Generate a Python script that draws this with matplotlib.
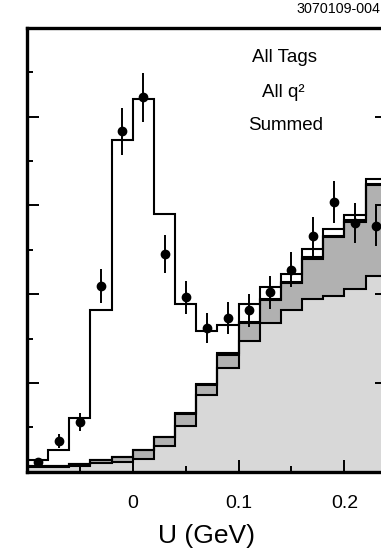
import numpy as np
import matplotlib
matplotlib.use("Agg")
import matplotlib.pyplot as plt
from matplotlib.ticker import MultipleLocator

plt.rcParams['font.family'] = ['Liberation Sans', 'DejaVu Sans']

# =========================
# Data
# =========================
bin_edges = [-0.10, -0.08, -0.06, -0.04, -0.02, 0.00, 0.02, 0.04, 0.06,
             0.08, 0.10, 0.12, 0.14, 0.16, 0.18, 0.20, 0.22, 0.24]

# stacked components, bottom to top
light = [2.5, 2.5, 3.2, 4.7, 5.6, 7.2, 14.5, 25.8, 43.3, 58.5, 73.4,
         83.7, 91.2, 97.5, 99.1, 103.1, 110.0]
dark = [0.9, 0.9, 1.1, 1.9, 2.5, 4.9, 5.1, 6.8, 5.6, 7.0, 10.5,
        13.2, 15.3, 22.5, 33.2, 37.6, 51.4]
black = [0.0, 0.0, 0.0, 0.0, 0.0, 0.0, 0.0, 0.7, 0.4, 1.1, 0.7,
         0.3, 0.2, 1.1, 0.7, 1.1, 0.7]
signal = [3.2, 8.8, 26.2, 84.3, 178.7, 198.0, 125.6, 61.2, 29.7, 15.8, 10.0,
          7.0, 4.7, 4.4, 3.7, 3.1, 2.9]

data_x = [-0.09, -0.07, -0.05, -0.03, -0.01, 0.01, 0.03, 0.05, 0.07,
          0.09, 0.11, 0.13, 0.15, 0.17, 0.19, 0.21, 0.23]
data_y = [5.6, 17.3, 28.2, 104.4, 191.9, 211.0, 122.8, 98.2, 80.9,
          86.6, 90.9, 101.0, 113.8, 132.6, 152.0, 140.2, 138.3]
data_err = [1.5, 4.2, 5.1, 9.6, 13.2, 13.9, 10.6, 9.5, 8.5,
            8.9, 9.1, 9.4, 10.0, 10.8, 11.7, 11.1, 11.3]

# =========================
# Figure
# =========================
fig = plt.figure(figsize=(3.81, 5.50), dpi=100)
ax = fig.add_axes([27 / 381, 78.3 / 550, 359.7 / 381, 443.7 / 550])

edges = np.array(bin_edges)
l_top = np.array(light)
d_top = l_top + np.array(dark)
k_top = d_top + np.array(black)
t_top = k_top + np.array(signal)

lw = 1.5
ax.stairs(l_top, edges, baseline=0, fill=True, color='#d8d8d8', lw=0)
ax.stairs(d_top, edges, baseline=l_top, fill=True, color='#b1b1b1', lw=0)
ax.stairs(k_top, edges, baseline=d_top, fill=True, color='black', lw=0)
for top in (l_top, d_top, k_top, t_top):
    ax.stairs(top, edges, baseline=None, color='black', lw=lw)

ax.errorbar(data_x, data_y, yerr=data_err, fmt='o', color='black',
            ms=6, elinewidth=1.4, capsize=0)

ax.set_xlim(-0.10, 0.24)
ax.set_ylim(0, 250)

ax.xaxis.set_major_locator(MultipleLocator(0.1))
ax.xaxis.set_minor_locator(MultipleLocator(0.05))
ax.yaxis.set_major_locator(MultipleLocator(50))
ax.yaxis.set_minor_locator(MultipleLocator(25))
ax.set_xticks([0, 0.1, 0.2])
ax.set_xticklabels(['0', '0.1', '0.2'])

ax.tick_params(which='both', direction='in', width=1.4,
               left=True, right=True, top=False, bottom=True,
               labelleft=False)
ax.tick_params(which='major', length=8.6)
ax.tick_params(which='minor', length=4.3)
ax.tick_params(axis='x', labelsize=14, pad=16.5)

for s in ax.spines.values():
    s.set_linewidth(2.4)

ax.set_xlabel('U (GeV)', fontsize=19)
ax.xaxis.set_label_coords(0.5, -0.118)

fig.text(285 / 381, 1 - 61.7 / 550, 'All Tags', ha='center', va='baseline', fontsize=13.5)
fig.text(283 / 381, 1 - 96.7 / 550, 'All q²', ha='center', va='baseline', fontsize=13.5)
fig.text(285.7 / 381, 1 - 130 / 550, 'Summed', ha='center', va='baseline', fontsize=13.5)
fig.text(380 / 381, 1 - 13.3 / 550, '3070109-004', ha='right', va='baseline', fontsize=10.3)

fig.savefig('out.png', dpi=100)
